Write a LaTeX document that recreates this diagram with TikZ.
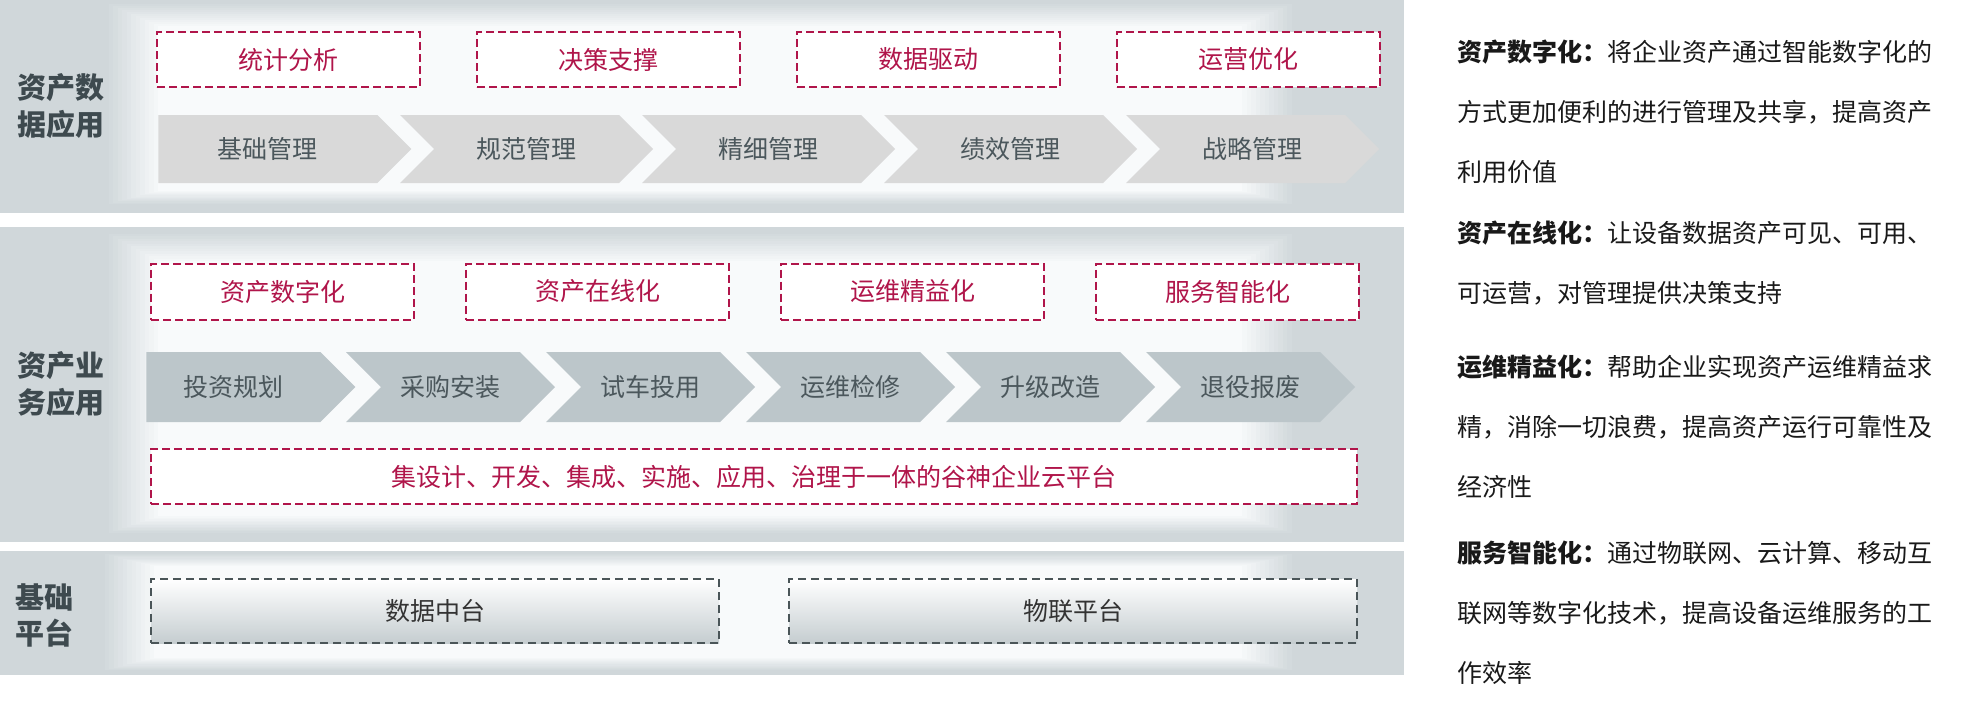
\documentclass[tikz,border=0pt]{standalone}
\usepackage{fontspec}
\usepackage{xcolor}
\usepackage{tikz}
\usetikzlibrary{positioning, shapes.symbols}

\newfontfamily\cjk{Noto Sans CJK SC}
\definecolor{accent}{HTML}{B0154A}
\definecolor{chevtop}{HTML}{D9D9D9}
\definecolor{chevmid}{HTML}{BCC6CA}
\definecolor{chevtext}{HTML}{4B575C}
\definecolor{labelgray}{HTML}{3E4A4F}
\definecolor{panelgray}{HTML}{D0D7DA}
\definecolor{panelbg}{HTML}{F8FAFB}
\definecolor{platline}{HTML}{4A5558}
\definecolor{platfill}{HTML}{C5CDD0}

\begin{document}
\begin{tikzpicture}[x=0.5pt, y=-0.5pt, on grid,
    goal/.style={draw=accent, fill=white, line width=1pt, dash pattern=on 4pt off 2pt,
        minimum width=131.5pt, minimum height=27.5pt, inner sep=0pt,
        text=accent, font=\cjk\fontsize{12.5}{15}\selectfont},
    stage/.style={signal, signal to=east, signal from=west, signal pointer angle=90,
        inner sep=0pt, text=chevtext, font=\cjk\fontsize{12.5}{15}\selectfont},
    platform/.style={draw=platline, line width=1pt, dash pattern=on 4pt off 2.5pt,
        top color=white, bottom color=platfill, minimum width=284pt, minimum height=32pt,
        inner sep=0pt, text=black!80, font=\cjk\fontsize{12.5}{15}\selectfont},
    layer/.style={align=center, inner sep=0pt, text=labelgray,
        font=\cjk\bfseries\fontsize{14.5}{18.5}\selectfont},
    note/.style={anchor=north west, align=left, text width=260pt, inner sep=0pt,
        text=black!90, font=\cjk\fontsize{12.5}{30}\selectfont}]
    \useasboundingbox (0,0) rectangle (1966,702);

    % panels, soft light centre
    \fill[panelgray] (0,0) rectangle (1404,213);
    \foreach \i [evaluate=\i as \p using int(\i*100/12)] in {1,...,12}
        \fill[panelbg!\p!panelgray] (104+4.5*\i,2+2*\i) rectangle (1296-4.5*\i,205-1.2*\i);
    \fill[panelgray] (0,227) rectangle (1404,542);
    \foreach \i [evaluate=\i as \p using int(\i*100/12)] in {1,...,12}
        \fill[panelbg!\p!panelgray] (104+4.5*\i,231+2.5*\i) rectangle (1296-4.5*\i,534-1.5*\i);
    \fill[panelgray] (0,551) rectangle (1404,675);
    \foreach \i [evaluate=\i as \p using int(\i*100/12)] in {1,...,12}
        \fill[panelbg!\p!panelgray] (100+4.5*\i,553+1.1*\i) rectangle (1296-4.5*\i,671-1.1*\i);

    % layer titles
    \node[layer] (l1) at (61,106.5) {资产数\\据应用};
    \node[layer] (l2) at (61,384.5) {资产业\\务应用};
    \node[layer, font=\cjk\bfseries\fontsize{14.5}{18}\selectfont] (l3) at (45,615) {基础\\平台};

    % data application
    \node[goal] (g1) at (288.5,59.5) {统计分析};
    \node[goal, right=160pt of g1] (g2) {决策支撑};
    \node[goal, right=160pt of g2] (g3) {数据驱动};
    \node[goal, right=160pt of g3] (g4) {运营优化};

    \node[stage, fill=chevtop, signal from=nowhere, minimum width=126.5pt, minimum height=34pt, anchor=west] (s1) at (158,149) {基础管理};
    \node[stage, fill=chevtop, minimum width=126.5pt, minimum height=34pt] (s2) at (526.5,149) {规范管理};
    \node[stage, fill=chevtop, minimum width=126.5pt, minimum height=34pt, right=121pt of s2] (s3) {精细管理};
    \node[stage, fill=chevtop, minimum width=126.5pt, minimum height=34pt, right=121pt of s3] (s4) {绩效管理};
    \node[stage, fill=chevtop, minimum width=126.5pt, minimum height=34pt, right=121pt of s4] (s5) {战略管理};

    % business application
    \node[goal, minimum height=28pt] (h1) at (282.5,291.5) {资产数字化};
    \node[goal, minimum height=28pt, right=157.5pt of h1] (h2) {资产在线化};
    \node[goal, minimum height=28pt, right=157.5pt of h2] (h3) {运维精益化};
    \node[goal, minimum height=28pt, right=157.5pt of h3] (h4) {服务智能化};

    \node[stage, fill=chevmid, signal from=nowhere, minimum width=104.5pt, minimum height=35pt, anchor=west] (t1) at (146,387) {投资规划};
    \node[stage, fill=chevmid, minimum width=104.5pt, minimum height=35pt] (t2) at (450.5,387) {采购安装};
    \node[stage, fill=chevmid, minimum width=104.5pt, minimum height=35pt, right=100pt of t2] (t3) {试车投用};
    \node[stage, fill=chevmid, minimum width=104.5pt, minimum height=35pt, right=100pt of t3] (t4) {运维检修};
    \node[stage, fill=chevmid, minimum width=104.5pt, minimum height=35pt, right=100pt of t4] (t5) {升级改造};
    \node[stage, fill=chevmid, minimum width=104.5pt, minimum height=35pt, right=100pt of t5] (t6) {退役报废};

    \node[goal, minimum width=603pt] (cloud) at (754,476.5) {集设计、开发、集成、实施、应用、治理于一体的谷神企业云平台};

    % platform
    \node[platform] (p1) at (435,611) {数据中台};
    \node[platform, right=319pt of p1] (p2) {物联平台};

    % notes
    \node[note] (n1) at (1457,39.5) {{\bfseries 资产数字化：}将企业资产通过智能数字化的\\方式更加便利的进行管理及共享，提高资产\\利用价值};
    \node[note] (n2) at (1457,220.5) {{\bfseries 资产在线化：}让设备数据资产可见、可用、\\可运营，对管理提供决策支持};
    \node[note] (n3) at (1457,354.5) {{\bfseries 运维精益化：}帮助企业实现资产运维精益求\\精，消除一切浪费，提高资产运行可靠性及\\经济性};
    \node[note] (n4) at (1457,540.5) {{\bfseries 服务智能化：}通过物联网、云计算、移动互\\联网等数字化技术，提高设备运维服务的工\\作效率};
\end{tikzpicture}
\end{document}
